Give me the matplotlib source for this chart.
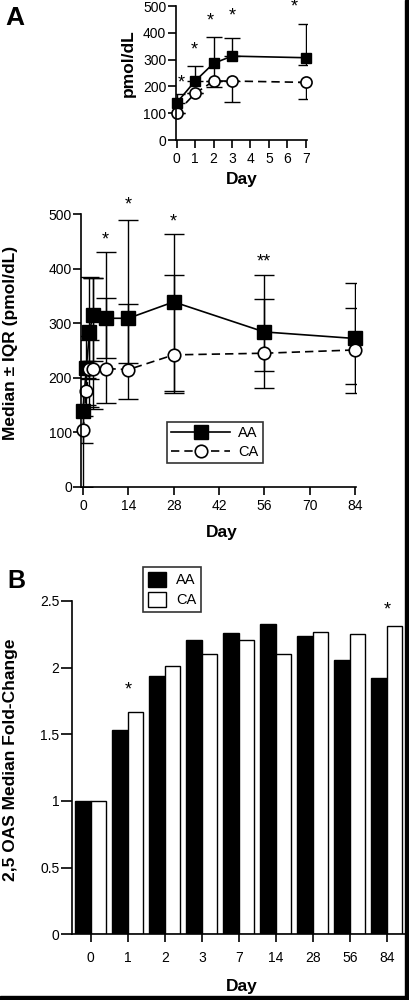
import numpy as np
import matplotlib
matplotlib.use('Agg')
import matplotlib.pyplot as plt
from matplotlib.patches import Rectangle, Patch

plt.rcParams['font.family'] = ['Liberation Sans', 'DejaVu Sans']

# inset (first week)
inset_days = [0, 1, 2, 3, 7]
inset_aa = [139, 220, 286, 313, 307]
inset_aa_lo = [139, 220, 197, 313, 280]
inset_aa_hi = [172, 276, 386, 382, 432]
inset_ca = [102, 174, 220, 220, 215]
inset_ca_lo = [102, 174, 220, 143, 153]
inset_ca_hi = [102, 174, 220, 220, 215]
inset_star_x = [0.25, 0.95, 1.8, 3.0, 6.4]
inset_star_y = [212, 336, 444, 463, 496]

# main panel A
days = [0, 1, 2, 3, 7, 14, 28, 56, 84]
aa_med = [139, 218, 283, 315, 309, 309, 339, 284, 272]
aa_lo = [81, 200, 197, 230, 236, 228, 175, 213, 189]
aa_hi = [175, 276, 385, 383, 431, 489, 463, 388, 373]
ca_med = [104, 176, 217, 217, 217, 215, 242, 245, 251]
ca_lo = [0, 150, 147, 143, 153, 161, 173, 182, 173]
ca_hi = [130, 230, 270, 383, 346, 336, 388, 345, 328]
star_days = [7, 14, 28, 56]
star_y = [452, 516, 485, 413]
star_txt = ['*', '*', '*', '**']

# panel B
bar_labels = ['0', '1', '2', '3', '7', '14', '28', '56', '84']
aa_fold = [1.0, 1.53, 1.94, 2.21, 2.26, 2.33, 2.24, 2.06, 1.92]
ca_fold = [1.0, 1.665, 2.01, 2.10, 2.21, 2.10, 2.265, 2.25, 2.31]
bar_star_idx = [1, 8]
bar_star_y = [1.83, 2.43]

W, H = 410, 1000
fig = plt.figure(figsize=(4.1, 10), dpi=100)

def box(l, r, t, b):
    return [l / W, 1 - b / H, (r - l) / W, (b - t) / H]

def style(ax, ylen=5.8, xlen=5.8):
    ax.spines['top'].set_visible(False)
    ax.spines['right'].set_visible(False)
    for s in ['left', 'bottom']:
        ax.spines[s].set_linewidth(1.2)
    ax.tick_params(axis='y', direction='out', length=ylen, width=1.2, labelsize=10, pad=1)
    ax.tick_params(axis='x', direction='out', length=xlen, width=1.2, labelsize=10, pad=3)

# ---- inset
ax1 = fig.add_axes(box(175.8, 306.6, 6, 140))
lo = np.array(inset_aa) - np.array(inset_aa_lo)
hi = np.array(inset_aa_hi) - np.array(inset_aa)
ax1.errorbar(inset_days, inset_aa, yerr=[lo, hi], fmt='none', ecolor='black', elinewidth=1, capsize=6, capthick=1)
lo = np.array(inset_ca) - np.array(inset_ca_lo)
hi = np.array(inset_ca_hi) - np.array(inset_ca)
ax1.errorbar(inset_days, inset_ca, yerr=[lo, hi], fmt='none', ecolor='black', elinewidth=1, capsize=6, capthick=1)
ax1.plot(inset_days, inset_ca, color='black', lw=1.2, dashes=(5, 3), marker='o', ms=8,
         mfc='white', mec='black', mew=1.2, clip_on=False)
ax1.plot(inset_days, inset_aa, color='black', lw=1.2, marker='s', ms=7.5, mfc='black', mec='black',
         clip_on=False)
for x, y in zip(inset_star_x, inset_star_y):
    ax1.text(x, y, '*', ha='center', va='center', fontsize=13, clip_on=False)
ax1.set_xlim(-0.05, 7.05)
ax1.set_ylim(0, 500)
ax1.set_xticks(range(8))
ax1.set_yticks([0, 100, 200, 300, 400, 500])
style(ax1)
fig.text(128 / W, 1 - 63 / H, 'pmol/dL', rotation=90, ha='center', va='center',
         fontsize=12.5, fontweight='bold')
fig.text(242 / W, 1 - 180 / H, 'Day', ha='center', va='center', fontsize=12.5, fontweight='bold')

# ---- main panel A
ax2 = fig.add_axes(box(81.4, 355.6, 214, 487))
lo = np.array(aa_med) - np.array(aa_lo)
hi = np.array(aa_hi) - np.array(aa_med)
ax2.errorbar(days, aa_med, yerr=[lo, hi], fmt='none', ecolor='black', elinewidth=1, capsize=7, capthick=1)
lo = np.array(ca_med) - np.array(ca_lo)
hi = np.array(ca_hi) - np.array(ca_med)
ax2.errorbar(days, ca_med, yerr=[lo, hi], fmt='none', ecolor='black', elinewidth=1, capsize=7, capthick=1)
l_aa, = ax2.plot(days, aa_med, color='black', lw=1.2, marker='s', ms=10, mfc='black', mec='black',
                 label='AA', clip_on=False)
l_ca, = ax2.plot(days, ca_med, color='black', lw=1.2, dashes=(5, 3), marker='o', ms=9,
                 mfc='white', mec='black', mew=1.2, label='CA', clip_on=False)
for d, y, t in zip(star_days, star_y, star_txt):
    ax2.text(d, y, t, ha='center', va='center', fontsize=13, clip_on=False)
ax2.set_xlim(-0.5, 84.2)
ax2.set_ylim(0, 500)
ax2.set_xticks([0, 14, 28, 42, 56, 70, 84])
ax2.set_yticks([0, 100, 200, 300, 400, 500])
style(ax2)
fig.text(11 / W, 1 - 343 / H, 'Median \u00b1 IQR (pmol/dL)', rotation=90, ha='center', va='center',
         fontsize=12.5, fontweight='bold')
fig.text(222 / W, 1 - 533 / H, 'Day', ha='center', va='center', fontsize=12.5, fontweight='bold')
leg = ax2.legend(handles=[l_aa, l_ca], loc='upper left', bbox_to_anchor=(167 / W, 1 - 422 / H),
                 bbox_transform=fig.transFigure, frameon=True, fancybox=False, edgecolor='black',
                 fontsize=10.5, handlelength=4, handletextpad=0.6, borderpad=0.3, labelspacing=0.3,
                 borderaxespad=0)
leg.get_frame().set_linewidth(1.2)

# ---- panel B
ax3 = fig.add_axes(box(72, 405, 601, 934.3))
x = np.arange(len(bar_labels))
w = 0.42
ax3.bar(x - w / 2, aa_fold, w, color='black', edgecolor='black', lw=1)
ax3.bar(x + w / 2, ca_fold, w, color='white', edgecolor='black', lw=1)
for i, y in zip(bar_star_idx, bar_star_y):
    ax3.text(i, y, '*', ha='center', va='center', fontsize=13)
ax3.set_xlim(-0.51, 8.49)
ax3.set_ylim(0, 2.5)
ax3.set_xticks(x)
ax3.set_xticklabels(bar_labels)
ax3.set_yticks([0, 0.5, 1, 1.5, 2, 2.5])
ax3.set_yticklabels(['0', '0.5', '1', '1.5', '2', '2.5'])
style(ax3, ylen=8, xlen=6)
ax3.tick_params(axis='x', pad=6)
fig.text(11 / W, 1 - 760 / H, '2,5 OAS Median Fold-Change', rotation=90, ha='center', va='center',
         fontsize=12.5, fontweight='bold')
fig.text(242 / W, 1 - 987 / H, 'Day', ha='center', va='center', fontsize=12.5, fontweight='bold')
hb = [Patch(facecolor='black', edgecolor='black', label='AA'),
      Patch(facecolor='white', edgecolor='black', label='CA')]
legb = fig.legend(handles=hb, loc='upper left', bbox_to_anchor=(143 / W, 1 - 567 / H),
                  frameon=True, fancybox=False, edgecolor='black', fontsize=10.5,
                  handlelength=1.2, handleheight=1.2, handletextpad=0.7, borderpad=0.35,
                  labelspacing=0.3, borderaxespad=0)
legb.get_frame().set_linewidth(1.2)

# panel letters
fig.text(5 / W, 1 - 18 / H, 'A', ha='left', va='center', fontsize=19, fontweight='bold')
fig.text(7 / W, 1 - 581 / H, 'B', ha='left', va='center', fontsize=18, fontweight='bold')

# black frame edges on right and bottom
fig.patches.append(Rectangle((405 / W, 0), 5 / W, 1, transform=fig.transFigure, color='black'))
fig.patches.append(Rectangle((0, 0), 1, 4 / H, transform=fig.transFigure, color='black'))

fig.savefig('out.png', dpi=100)
